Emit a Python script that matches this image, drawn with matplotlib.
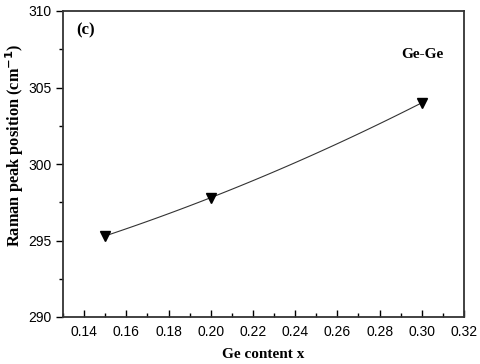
import matplotlib.pyplot as plt
import numpy as np

# Ge content and Ge-Ge Raman peak positions
ge_content = [0.15, 0.20, 0.30]
peak_pos = [295.3, 297.8, 304.0]

x_ticks = [0.14, 0.16, 0.18, 0.20, 0.22, 0.24, 0.26, 0.28, 0.30, 0.32]
y_ticks = [290, 295, 300, 305, 310]

serif = ['Liberation Serif', 'DejaVu Serif']
sans = ['Liberation Sans', 'DejaVu Sans']

fig = plt.figure(figsize=(4.8, 3.64), dpi=100)
ax = fig.add_axes([63/480, 1 - 317/364, (464-63)/480, (317-11)/364])

# smooth curve through the points (quadratic)
coef = np.polyfit(ge_content, peak_pos, 2)
xs = np.linspace(min(ge_content), max(ge_content), 100)
ax.plot(xs, np.polyval(coef, xs), color='#333333', lw=0.8)
ax.plot(ge_content, peak_pos, linestyle='none', marker='v', color='black', markersize=7)

ax.set_xlim(0.13, 0.32)
ax.set_ylim(290, 310)
ax.set_xticks(x_ticks)
ax.set_xticklabels(['%.2f' % t for t in x_ticks], family=sans, fontsize=10)
ax.set_xticks(np.arange(0.13, 0.321, 0.02), minor=True)
ax.set_yticks(y_ticks)
ax.set_yticklabels([str(t) for t in y_ticks], family=sans, fontsize=10)
ax.set_yticks([292.5, 297.5, 302.5, 307.5], minor=True)

ax.tick_params(axis='x', which='both', direction='in')
ax.tick_params(axis='x', which='major', length=5, width=1, pad=6)
ax.tick_params(axis='x', which='minor', length=3, width=1)
ax.tick_params(axis='y', which='major', direction='out', length=5, width=1, pad=3)
ax.tick_params(axis='y', which='minor', direction='out', length=3, width=1)

for s in ax.spines.values():
    s.set_linewidth(1.3)
    s.set_color('#333333')

ax.set_xlabel('Ge content x', family=serif, fontweight='bold', fontsize=11, labelpad=6)
ax.set_ylabel('Raman peak position (cm$^{\\mathbf{-1}}$)', family=serif, fontweight='bold', fontsize=11.8)
ax.yaxis.set_label_coords(-0.093, 0.562)

ax.text(0.033, 0.935, '(c)', transform=ax.transAxes, family=serif, fontweight='bold', fontsize=12, va='center')
ax.text(0.895, 0.845, 'Ge-Ge', transform=ax.transAxes, family=serif, fontweight='bold', fontsize=11, ha='center')

fig.savefig('out.png', dpi=100)
